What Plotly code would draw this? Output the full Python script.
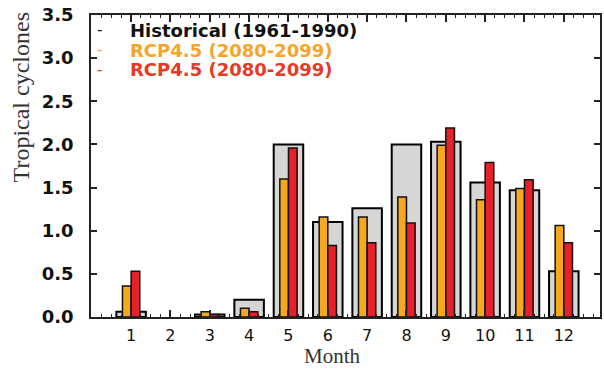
import plotly.graph_objects as go

months = list(range(1, 13))
month_labels = [str(m) for m in months]
historical = [0.06, 0.0, 0.03, 0.20, 2.00, 1.10, 1.26, 2.00, 2.03, 1.56, 1.47, 0.53]
rcp45_a = [0.36, 0.0, 0.06, 0.10, 1.60, 1.16, 1.16, 1.39, 1.99, 1.36, 1.49, 1.06]
rcp45_b = [0.53, 0.0, 0.03, 0.06, 1.96, 0.83, 0.86, 1.09, 2.19, 1.79, 1.59, 0.86]
legend_names = ["Historical (1961-1990)", "RCP4.5 (2080-2099)", "RCP4.5 (2080-2099)"]
y_ticks = [0.0, 0.5, 1.0, 1.5, 2.0, 2.5, 3.0, 3.5]

GRAY = "#d6d6d6"
ORANGE = "#f8a81c"
RED = "#e8202a"


def outline(values, w):
    # no outline for empty (zero) bars, as in the reference
    return [w if v > 0 else 0 for v in values]


fig = go.Figure()
fig.add_trace(go.Bar(x=months, y=historical, width=0.75, name=legend_names[0],
                     marker=dict(color=GRAY, line=dict(color="black", width=outline(historical, 2)))))
fig.add_trace(go.Bar(x=months, y=rcp45_a, width=0.22, offset=-0.22, name=legend_names[1],
                     marker=dict(color=ORANGE, line=dict(color="#111111", width=outline(rcp45_a, 1.5)))))
fig.add_trace(go.Bar(x=months, y=rcp45_b, width=0.22, offset=0.0, name=legend_names[2],
                     marker=dict(color=RED, line=dict(color="#111111", width=outline(rcp45_b, 1.5)))))

fig.update_layout(
    width=604, height=370,
    margin=dict(l=91, r=2, t=15, b=53),
    barmode="overlay",
    showlegend=False,
    plot_bgcolor="white", paper_bgcolor="white",
    font=dict(family="DejaVu Sans", color="#111111"),
)
fig.update_xaxes(
    range=[-0.02, 12.92], tickmode="array", tickvals=months, ticktext=month_labels,
    showline=True, linecolor="#222222", linewidth=1.5, mirror="ticks",
    ticks="inside", ticklen=7, tickwidth=1.5, tickcolor="#222222",
    minor=dict(ticks="inside", dtick=0.25, tick0=0, ticklen=3, tickwidth=1.2, tickcolor="#222222"),
    showgrid=False, zeroline=False,
    tickfont=dict(family="DejaVu Sans", size=16, color="#111111"),
    ticklabelstandoff=3,
)
fig.update_yaxes(
    range=[0, 3.5], tickmode="array", tickvals=y_ticks, tickformat=".1f",
    showline=True, linecolor="#222222", linewidth=1.5, mirror="ticks",
    ticks="inside", ticklen=6, tickwidth=1.5, tickcolor="#222222",
    showgrid=False, zeroline=False,
    tickfont=dict(family="DejaVu Sans", size=18, color="#111111", weight="bold"),
    ticklabelstandoff=12,
)

ann = []
ann.append(dict(text="Tropical cyclones", xref="paper", yref="paper", x=-0.137, y=0.728,
                textangle=-90, showarrow=False, xanchor="center", yanchor="middle",
                font=dict(family="Liberation Serif", size=24, color="#333333")))
ann.append(dict(text="Month", xref="paper", yref="paper", x=0.474, y=-0.176,
                showarrow=False, xanchor="center", yanchor="bottom",
                font=dict(family="Liberation Serif", size=21, color="#333333")))
leg_colors = ["#111111", "#f5a52a", "#e63a26"]
leg_y = [0.950, 0.884, 0.818]
for name, col, yy in zip(legend_names, leg_colors, leg_y):
    ann.append(dict(text="-", xref="paper", yref="paper", x=0.0176, y=yy, showarrow=False,
                    xanchor="center", yanchor="middle",
                    font=dict(family="DejaVu Sans", size=15, color=col)))
    ann.append(dict(text=name, xref="paper", yref="paper", x=0.0724, y=yy, showarrow=False,
                    xanchor="left", yanchor="middle",
                    font=dict(family="DejaVu Sans", size=18, color=col, weight="bold")))
fig.update_layout(annotations=ann)

fig.write_html("out.html", config={"displayModeBar": False},
               post_script="document.body.style.margin='0';")
